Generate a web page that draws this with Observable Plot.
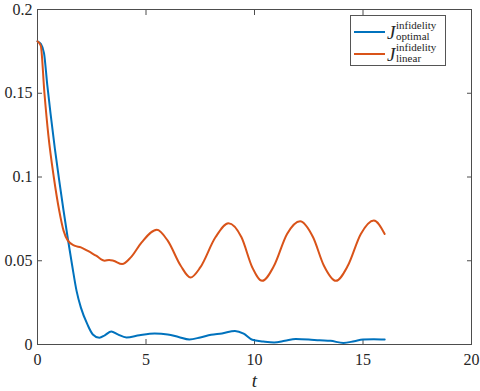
<!DOCTYPE html>
<html>
<head>
<meta charset="utf-8">
<script src="https://cdn.jsdelivr.net/npm/d3@7"></script>
<script src="https://cdn.jsdelivr.net/npm/@observablehq/plot@0.6"></script>
<style>
  html, body { margin: 0; padding: 0; background: #fff; }
  #wrap { position: relative; width: 480px; height: 391px; font-family: 'Liberation Serif'; }
  #legend { position: absolute; left: 350px; top: 15px; width: 96px; height: 51px; border: 1px solid #555; background: #fff; box-sizing: border-box; color: #262626; }
  .row { position: absolute; left: 0; height: 21px; width: 100%; }
  .sw { position: absolute; left: 3px; width: 31px; height: 2px; }
  .J { position: absolute; left: 36px; font-style: italic; font-size: 19px; line-height: 19px; }
  .sup { position: absolute; left: 45px; top: 0px; font-size: 11px; line-height: 10px; white-space: nowrap; }
  .sub { position: absolute; left: 45px; top: 11px; font-size: 11px; line-height: 10px; white-space: nowrap; }
</style>
</head>
<body>
<div id="wrap"></div>
<script>
const tOptimal = [0, 0.15, 0.3, 0.45, 0.6, 0.8, 1.0, 1.2, 1.4, 1.6, 1.8, 2.0, 2.3, 2.55, 2.85, 3.1, 3.4, 3.7, 4.1, 4.7, 5.4, 6.0, 6.5, 7.0, 7.5, 8.0, 8.5, 9.1, 9.5, 9.9, 10.4, 10.9, 11.4, 11.9, 12.5, 13.0, 13.5, 14.1, 14.6, 15.0, 15.5, 16.0];
const vOptimal = [0.181, 0.1795, 0.174, 0.155, 0.138, 0.117, 0.098, 0.080, 0.063, 0.047, 0.032, 0.022, 0.012, 0.006, 0.004, 0.0055, 0.0078, 0.006, 0.0042, 0.0055, 0.0065, 0.006, 0.0045, 0.003, 0.0042, 0.0058, 0.0066, 0.0081, 0.0065, 0.0028, 0.0018, 0.0012, 0.0022, 0.0033, 0.003, 0.0025, 0.0022, 0.0009, 0.002, 0.003, 0.0032, 0.003];
const tLinear = [0, 0.15, 0.32, 0.5, 0.75, 1.0, 1.2, 1.4, 1.7, 2.0, 2.3, 2.7, 3.1, 3.3, 3.5, 3.9, 4.3, 4.8, 5.5, 6.0, 6.6, 7.05, 7.5, 8.2, 8.8, 9.4, 9.9, 10.35, 10.9, 11.5, 12.1, 12.7, 13.2, 13.75, 14.3, 14.9, 15.5, 16.0];
const vLinear = [0.181, 0.1785, 0.15, 0.125, 0.1, 0.08, 0.068, 0.062, 0.059, 0.058, 0.056, 0.053, 0.050, 0.0505, 0.050, 0.048, 0.052, 0.061, 0.0685, 0.062, 0.047, 0.040, 0.046, 0.064, 0.0724, 0.064, 0.046, 0.038, 0.047, 0.066, 0.0736, 0.064, 0.047, 0.038, 0.047, 0.066, 0.074, 0.066];
const xTicks = [0, 5, 10, 15, 20];
const yTicks = [0, 0.05, 0.1, 0.15, 0.2];
const xLabel = "t";
const seriesNames = ["optimal", "linear"];
const seriesColors = ["#0072BD", "#D95319"];

const optimal = tOptimal.map((t, i) => ({t, v: vOptimal[i]}));
const linear = tLinear.map((t, i) => ({t, v: vLinear[i]}));
const axisColor = "#4d4d4d";
const textColor = "#262626";

const chart = Plot.plot({
  width: 480,
  height: 391,
  marginLeft: 37,
  marginRight: 9,
  marginTop: 9,
  marginBottom: 47,
  style: {fontFamily: "Liberation Serif", fontSize: "16px"},
  x: {domain: [0, 20], label: null},
  y: {domain: [0, 0.2], label: null},
  marks: [
    Plot.frame({stroke: axisColor}),
    Plot.axisX({ticks: xTicks, tickSize: -5, tickPadding: 14, tickFormat: d => String(d), stroke: axisColor, fill: textColor, label: null}),
    Plot.axisX({anchor: "top", ticks: xTicks, tickSize: -5, tickFormat: () => "", stroke: axisColor, label: null}),
    Plot.axisY({ticks: yTicks, tickSize: -5, tickPadding: 10, tickFormat: d => String(d), stroke: axisColor, fill: textColor, label: null}),
    Plot.axisY({anchor: "right", ticks: yTicks, tickSize: -5, tickFormat: () => "", stroke: axisColor, label: null}),
    Plot.line(optimal, {x: "t", y: "v", stroke: seriesColors[0], strokeWidth: 2, curve: "monotone-x"}),
    Plot.line(linear, {x: "t", y: "v", stroke: seriesColors[1], strokeWidth: 2, curve: "monotone-x"}),
    Plot.text([xLabel], {frameAnchor: "bottom", dy: 42, fontStyle: "italic", fontSize: 19, fill: textColor})
  ]
});
const wrap = document.getElementById("wrap");
wrap.appendChild(chart);

const legend = document.createElement("div");
legend.id = "legend";
seriesNames.forEach((name, i) => {
  const row = document.createElement("div");
  row.className = "row";
  row.style.top = (4 + i * 21.5) + "px";
  row.innerHTML = `<div class="sw" style="top:11px;background:${seriesColors[i]}"></div><span class="J" style="top:3px">J</span><span class="sup">infidelity</span><span class="sub">${name}</span>`;
  legend.appendChild(row);
});
wrap.appendChild(legend);
</script>
</body>
</html>
